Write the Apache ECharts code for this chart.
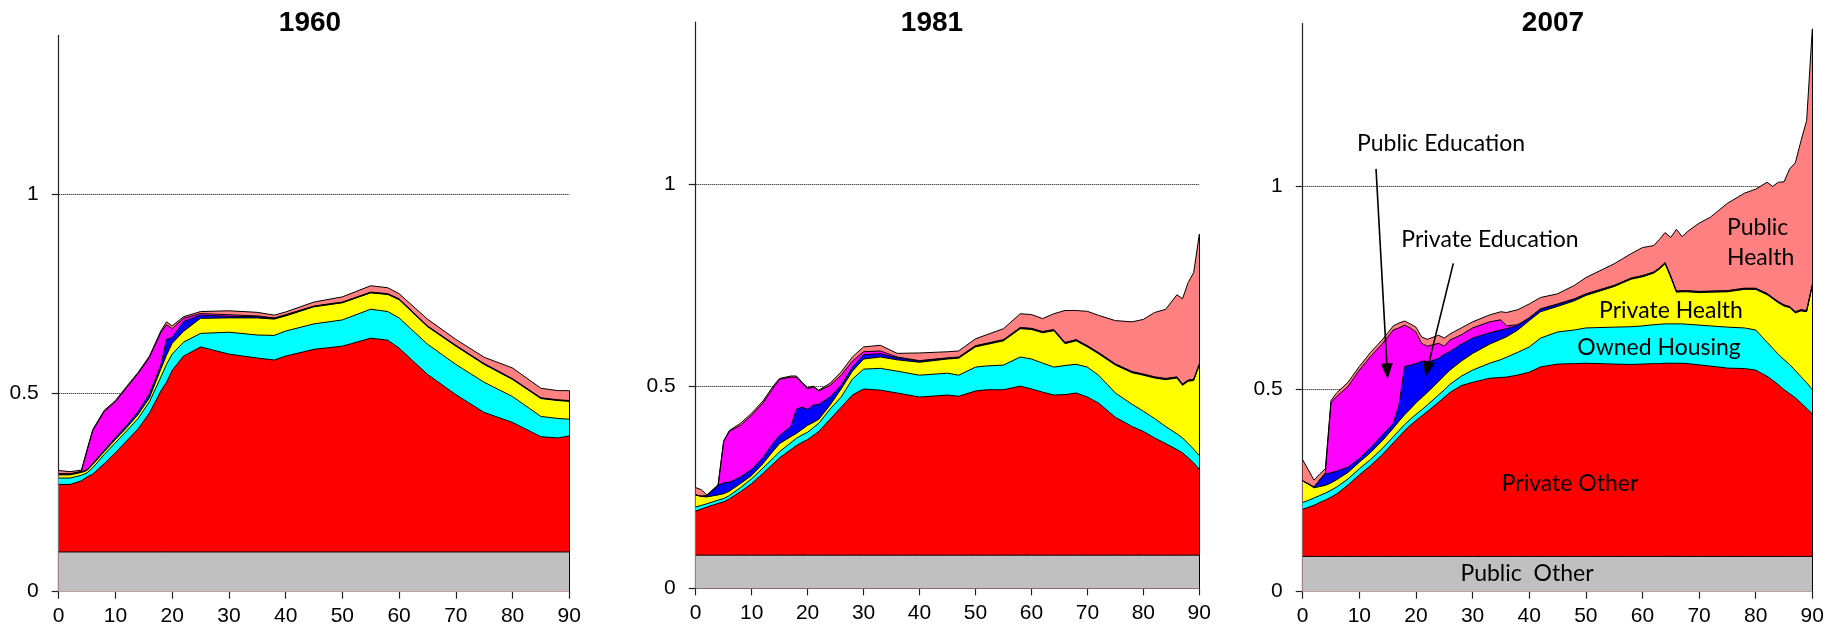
<!DOCTYPE html>
<html>
<head>
<meta charset="utf-8">
<script src="https://cdn.jsdelivr.net/npm/echarts@6/dist/echarts.min.js"></script>
<style>
    html, body { margin: 0; padding: 0; background: #fff; }
    #main { width: 1835px; height: 631px; }
</style>
</head>
<body>
<div id="main"></div>
<script>
// every array below is the TOP edge of a layer (layers are cumulative)
var ages1960 = [0, 2, 4, 5, 6, 8, 10, 12, 14, 16, 18, 19, 20, 22, 25, 30, 35, 38, 40, 45, 50, 55, 58, 60, 65, 70, 75, 80, 85, 88, 90];
var publicOther1960 = 0.10;
var privOther1960 = [.270, .270, .279, .289, .296, .322, .350, .380, .410, .450, .505, .527, .557, .593, .616, .598, .588, .583, .593, .610, .618, .638, .633, .613, .547, .496, .451, .426, .390, .387, .392];
var housing1960 = [.286, .286, .293, .299, .312, .345, .375, .405, .436, .478, .540, .572, .598, .628, .650, .653, .646, .645, .656, .674, .684, .711, .705, .689, .623, .572, .527, .491, .441, .436, .434];
var privHealth1960 = [.294, .294, .300, .305, .320, .352, .383, .413, .446, .488, .560, .595, .625, .655, .688, .689, .689, .686, .694, .717, .727, .752, .748, .735, .667, .618, .572, .534, .486, .481, .479];
var privEdu1960 = [.296, .296, .302, .307, .323, .356, .388, .419, .453, .498, .570, .635, .640, .680, .696, .693, .692, .688, .696, .718, .728, .753, .749, .736, .668, .619, .573, .535, .487, .482, .480];
var pubEdu1960 = [.297, .297, .303, .355, .405, .453, .478, .514, .549, .590, .652, .672, .662, .688, .700, .697, .694, .689, .697, .719, .729, .754, .750, .737, .669, .620, .574, .536, .488, .483, .481];
var pubHealth1960 = [.305, .302, .306, .358, .408, .456, .481, .517, .552, .593, .656, .679, .669, .692, .705, .707, .703, .696, .704, .729, .742, .770, .765, .750, .686, .635, .590, .563, .512, .506, .506];

var ages1981 = [0, 1, 2, 4, 5, 6, 8, 10, 12, 14, 15, 17, 18, 19, 20, 21, 22, 24, 26, 28, 30, 33, 36, 40, 45, 47, 50, 52, 55, 58, 60, 62, 64, 66, 68, 70, 72, 75, 78, 80, 82, 84, 86, 87, 88, 89, 90];
var publicOther1981 = 0.082;
var privOther1981 = [.191, .196, .201, .210, .214, .221, .239, .259, .284, .310, .323, .343, .353, .361, .368, .378, .388, .418, .448, .478, .493, .490, .483, .473, .478, .475, .488, .491, .491, .500, .493, .485, .478, .479, .483, .473, .458, .423, .400, .388, .372, .358, .343, .335, .323, .310, .294];
var housing1981 = [.201, .205, .209, .218, .222, .229, .249, .271, .297, .324, .338, .360, .371, .379, .386, .397, .408, .443, .473, .517, .542, .544, .537, .527, .532, .527, .547, .550, .552, .572, .567, .557, .547, .551, .554, .547, .527, .483, .455, .438, .420, .400, .382, .372, .358, .344, .328];
var privHealth1981 = [.231, .227, .226, .231, .234, .240, .259, .279, .308, .342, .358, .375, .383, .393, .403, .410, .418, .453, .493, .537, .567, .572, .565, .559, .567, .569, .597, .603, .612, .642, .640, .632, .637, .605, .612, .597, .580, .552, .533, .527, .520, .516, .520, .502, .512, .514, .552];
var privEdu1981 = [.231, .228, .229, .254, .261, .262, .275, .294, .323, .362, .378, .400, .443, .448, .443, .453, .455, .473, .502, .547, .578, .580, .570, .562, .569, .571, .599, .605, .614, .644, .642, .634, .639, .607, .614, .599, .582, .554, .535, .529, .522, .518, .522, .504, .514, .516, .554];
var pubEdu1981 = [.231, .228, .229, .254, .363, .388, .403, .428, .458, .498, .517, .522, .522, .507, .493, .498, .488, .502, .527, .562, .585, .587, .572, .563, .570, .572, .600, .606, .615, .645, .643, .635, .640, .608, .615, .600, .583, .555, .536, .530, .523, .519, .523, .505, .515, .517, .555];
var pubHealth1981 = [.249, .244, .231, .256, .365, .390, .408, .433, .463, .503, .519, .525, .525, .510, .496, .500, .490, .507, .535, .572, .597, .601, .581, .582, .585, .587, .617, .627, .642, .679, .677, .667, .679, .687, .687, .685, .675, .662, .659, .665, .682, .690, .726, .716, .756, .781, .876];

var ages2007 = [0, 1, 2, 3, 4, 5, 6, 8, 10, 12, 14, 16, 17, 18, 19, 20, 21, 22, 24, 25, 26, 28, 30, 33, 35, 36, 38, 40, 42, 45, 48, 50, 55, 58, 60, 62, 63, 64, 65, 66, 67, 68, 70, 72, 75, 78, 80, 82, 83, 84, 85, 86, 87, 88, 89, 90];
var publicOther2007 = 0.087;
var privOther2007 = [.203, .208, .213, .220, .226, .233, .241, .263, .288, .311, .337, .367, .382, .397, .410, .422, .433, .444, .467, .479, .491, .508, .516, .526, .528, .529, .534, .541, .554, .561, .562, .563, .561, .560, .561, .562, .562, .563, .563, .563, .563, .562, .559, .556, .551, .550, .546, .531, .521, .510, .498, .488, .478, .465, .452, .438];
var housing2007 = [.220, .225, .231, .237, .243, .250, .258, .278, .303, .326, .352, .382, .397, .412, .425, .437, .448, .460, .485, .497, .511, .531, .546, .563, .572, .578, .590, .603, .625, .640, .645, .650, .652, .653, .655, .658, .659, .660, .660, .660, .660, .659, .657, .655, .652, .650, .645, .615, .600, .585, .572, .560, .545, .530, .515, .498];
var privHealth2007 = [.273, .265, .256, .259, .262, .268, .276, .294, .319, .343, .371, .403, .420, .436, .450, .465, .478, .491, .518, .532, .546, .568, .587, .610, .622, .628, .645, .668, .690, .703, .717, .730, .752, .770, .776, .785, .795, .808, .775, .738, .739, .739, .737, .738, .739, .745, .745, .732, .722, .712, .704, .700, .687, .692, .690, .754];
var privEdu2007 = [.273, .266, .258, .275, .290, .293, .297, .307, .328, .355, .385, .415, .460, .555, .558, .562, .568, .565, .575, .585, .592, .610, .625, .638, .645, .648, .656, .674, .696, .708, .721, .733, .754, .772, .778, .787, .797, .810, .777, .740, .741, .741, .739, .740, .741, .747, .747, .734, .724, .714, .706, .702, .689, .694, .692, .756];
var pubEdu2007 = [.273, .266, .258, .276, .293, .466, .481, .506, .546, .580, .610, .645, .650, .657, .650, .640, .612, .605, .612, .605, .620, .633, .650, .665, .670, .655, .658, .675, .697, .709, .722, .734, .755, .773, .779, .788, .798, .811, .778, .741, .742, .742, .740, .741, .742, .748, .748, .735, .725, .715, .707, .703, .690, .695, .693, .757];
var pubHealth2007 = [.325, .300, .275, .290, .303, .471, .490, .516, .555, .590, .620, .655, .662, .667, .660, .652, .628, .622, .632, .625, .635, .650, .665, .682, .690, .688, .695, .709, .725, .734, .755, .774, .808, .833, .848, .853, .868, .885, .873, .893, .875, .888, .908, .923, .957, .982, .992, 1.009, .999, 1.009, 1.010, 1.042, 1.057, 1.111, 1.161, 1.387];

var years = ['1960', '1981', '2007'];
var yTicks = [0, 0.5, 1];

var colors = {
    pubHealth: '#ff8080',
    pubEdu: '#ff00ff',
    privEdu: '#0000ff',
    privHealth: '#ffff00',
    housing: '#00ffff',
    privOther: '#ff0000',
    pubOther: '#c0c0c0'
};

var panels = [
    { ages: ages1960, pubOther: publicOther1960, privOther: privOther1960, housing: housing1960, privHealth: privHealth1960, privEdu: privEdu1960, pubEdu: pubEdu1960, pubHealth: pubHealth1960 },
    { ages: ages1981, pubOther: publicOther1981, privOther: privOther1981, housing: housing1981, privHealth: privHealth1981, privEdu: privEdu1981, pubEdu: pubEdu1981, pubHealth: pubHealth1981 },
    { ages: ages2007, pubOther: publicOther2007, privOther: privOther2007, housing: housing2007, privHealth: privHealth2007, privEdu: privEdu2007, pubEdu: pubEdu2007, pubHealth: pubHealth2007 }
];

var grids = [
    { left: 58.7, top: 35.4, width: 510.6, height: 556.3 },
    { left: 695.7, top: 22.2, width: 503.6, height: 566.1 },
    { left: 1302.7, top: 23.6, width: 509.6, height: 568.1 }
];
var titleX = [310, 932, 1553];

var axisFont = '"Liberation Sans", Arial, sans-serif';
var noteFont = 'Lato, "Open Sans", sans-serif';

var xAxes = [], yAxes = [], series = [], graphics = [];

grids.forEach(function (g, gi) {
    xAxes.push({
        gridIndex: gi, type: 'value', min: 0, max: 90, interval: 10,
        axisLine: { show: true, onZero: false, lineStyle: { color: '#222', width: 1.2 } },
        axisTick: { show: true, length: 7, lineStyle: { color: '#222', width: 1.2 } },
        axisLabel: { color: '#000', fontSize: 21, fontFamily: axisFont, margin: 14 },
        splitLine: { show: false }
    });
    yAxes.push({
        gridIndex: gi, type: 'value', min: 0, max: 1.4, interval: 0.5,
        axisLine: { show: true, onZero: false, lineStyle: { color: '#222', width: 1.2 } },
        axisTick: { show: true, length: 7, customValues: yTicks, lineStyle: { color: '#222', width: 1.2 } },
        axisLabel: {
            color: '#000', fontSize: 21, fontFamily: axisFont, margin: 20, customValues: yTicks,
            formatter: function (v) { return v > 1.2 ? '' : String(v); }
        },
        splitLine: { show: true, showMinLine: false, lineStyle: { color: '#000', type: 'dotted', width: 1 } }
    });
    graphics.push({
        type: 'text', x: titleX[gi], y: 23,
        style: { text: years[gi], font: 'bold 28px ' + axisFont, fill: '#000', align: 'center', verticalAlign: 'middle', textAlign: 'center', textVerticalAlign: 'middle' }
    });
});

function areaSeries(gi, ages, tops, color, extra) {
    var s = {
        type: 'line', xAxisIndex: gi, yAxisIndex: gi,
        data: ages.map(function (a, i) { return [a, tops[i]]; }),
        symbol: 'none', showSymbol: false, silent: true,
        lineStyle: { color: '#000', width: 1 },
        areaStyle: { color: color, opacity: 1 }
    };
    return Object.assign(s, extra || {});
}

panels.forEach(function (p, gi) {
    var ages = p.ages;
    var last = ages.length - 1;
    // draw from the highest edge down, each area filled to zero
    series.push(areaSeries(gi, ages, p.pubHealth, colors.pubHealth));
    series.push(areaSeries(gi, ages, p.pubEdu, colors.pubEdu));
    series.push(areaSeries(gi, ages, p.privEdu, colors.privEdu));
    series.push(areaSeries(gi, ages, p.privHealth, colors.privHealth));
    series.push(areaSeries(gi, ages, p.housing, colors.housing));
    series.push(areaSeries(gi, ages, p.privOther, colors.privOther));
    var edge = [[{ coord: [ages[last], 0] }, { coord: [ages[last], p.pubHealth[last]] }]];
    var lineData = edge;
    if (gi === 2) {
        lineData = edge.concat([
            [{ coord: [12.95, 1.042], lineStyle: { width: 1.6 } }, { coord: [14.93, 0.543], symbol: 'triangle' }],
            [{ coord: [26.6, 0.809], lineStyle: { width: 1.6 } }, { coord: [22.0, 0.548], symbol: 'triangle' }]
        ]);
    }
    series.push(areaSeries(gi, ages, ages.map(function () { return p.pubOther; }), colors.pubOther, {
        markLine: {
            silent: true, symbol: 'none', symbolSize: [12, 16],
            label: { show: false },
            lineStyle: { color: '#000', type: 'solid', width: 1 },
            data: lineData
        }
    }));
});

// labels written inside the 2007 panel
var notes = [
    { text: 'Public Education', x: 1441, y: 144, align: 'center' },
    { text: 'Private Education', x: 1490, y: 240, align: 'center' },
    { text: 'Public', x: 1727, y: 228, align: 'left' },
    { text: 'Health', x: 1727, y: 258, align: 'left' },
    { text: 'Private Health', x: 1671, y: 311, align: 'center' },
    { text: 'Owned Housing', x: 1659, y: 348, align: 'center' },
    { text: 'Private Other', x: 1570, y: 484, align: 'center' },
    { text: 'Public  Other', x: 1527, y: 574, align: 'center' }
];
notes.forEach(function (n) {
    graphics.push({
        type: 'text', x: n.x, y: n.y, z: 100,
        style: { text: n.text, font: '23px ' + noteFont, fill: '#000', align: n.align, verticalAlign: 'middle', textAlign: n.align, textVerticalAlign: 'middle' }
    });
});

var myChart = echarts.init(document.getElementById('main'), null, { renderer: 'canvas' });
myChart.setOption({
    animation: false,
    backgroundColor: '#fff',
    grid: grids,
    xAxis: xAxes,
    yAxis: yAxes,
    series: series,
    graphic: graphics
});
</script>
</body>
</html>
